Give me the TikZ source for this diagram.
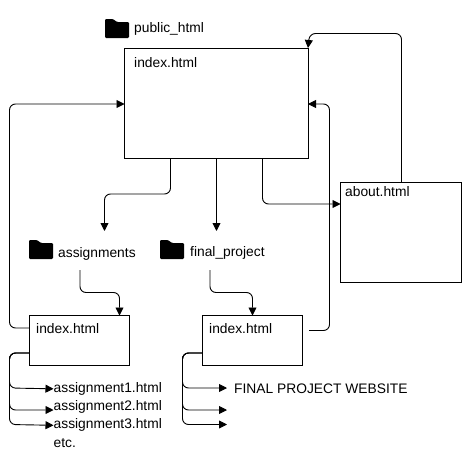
\documentclass[tikz,border=0pt]{standalone}
\usepackage{fontspec}
\setmainfont{Liberation Sans}
\usetikzlibrary{arrows.meta}

\tikzset{
  page box/.style={draw, line width=0.9pt, anchor=north west, inner sep=0pt, outer sep=0pt},
  caption/.style={anchor=west, inner sep=0pt, yshift=-0.8pt, font=\fontsize{13.8}{16}\selectfont},
  link/.style={line width=0.9pt, rounded corners=6pt},
  arrowlink/.style={link, -{Triangle[length=8pt,width=8pt]}},
  folder/.style={fill=black, rounded corners=1.2pt}
}
\newcommand{\foldericon}[2]{
  \fill[folder] (#1, #2) -- (#1, #2-19) -- (#1+8, #2-19) -- (#1+12, #2-16) -- (#1+24, #2-16) -- (#1+24, #2) -- cycle;
}

\begin{document}
\begin{tikzpicture}[x=1pt, y=-1pt]
    \useasboundingbox (0, 0) rectangle (469, 469);

    % pages
    \node[page box, minimum width=183.5pt, minimum height=110.5pt] (main) at (124.5, 48) {};
    \node[page box, minimum width=121pt, minimum height=99.5pt] (about) at (340.5, 182.5) {};
    \node[page box, minimum width=100pt, minimum height=49.5pt] (assignindex) at (29.5, 315.5) {};
    \node[page box, minimum width=100pt, minimum height=49.5pt] (finalindex) at (202.5, 315.5) {};

    \node[caption] (mainname) at (134, 62) {index.html};
    \node[caption] (aboutname) at (345, 191) {about.html};
    \node[caption] (assignindexname) at (36, 328) {index.html};
    \node[caption] (finalindexname) at (209, 328) {index.html};

    % folders
    \foldericon{105}{38}
    \foldericon{29}{259}
    \foldericon{160}{259}
    \node[caption] (publicname) at (134, 28) {public\_html};
    \node[caption] (assignname) at (58, 253) {assignments};
    \node[caption] (finalname) at (190, 252) {final\_project};

    % files
    \node[caption] (assign1) at (53.5, 388) {assignment1.html};
    \node[caption] (assign2) at (53.5, 406.5) {assignment2.html};
    \node[caption] (assign3) at (53.5, 424.5) {assignment3.html};
    \node[caption] (etc) at (53.5, 442.5) {etc.};
    \node[caption] (website) at (234, 388) {FINAL PROJECT WEBSITE};

    % free ends
    \coordinate (assignin) at (104.5, 231);
    \coordinate (finalin) at (216.5, 231);
    \coordinate (assignout) at (80, 270);
    \coordinate (finalout) at (210, 270);
    \coordinate (finalback) at (309, 330.5);
    \coordinate (assign2in) at (53.5, 410);
    \coordinate (final1in) at (227, 388);
    \coordinate (final2in) at (227, 410);
    \coordinate (final3in) at (227, 424.5);

    % from the main page
    \draw[arrowlink] ([xshift=46pt]main.south west) |- (104.5, 194) -- (assignin);
    \draw[arrowlink] ([xshift=92pt]main.south west) -- (finalin);
    \draw[arrowlink] ([xshift=138pt]main.south west) |- ([yshift=-21.5pt]about.north west);

    % back to the main page
    \draw[arrowlink] ([xshift=61pt]about.north west) |- (309.5, 33.5) -- (main.north east);
    \draw[arrowlink] ([yshift=-12.5pt]assignindex.north west) -| (9.5, 104) -- ([yshift=-56pt]main.north west);
    \draw[arrowlink] (finalback) -| (329.5, 104) -- ([yshift=-56pt]main.north east);

    % folders to pages
    \draw[arrowlink] (assignout) |- (119.5, 292.5) -- ([xshift=90pt]assignindex.north west);
    \draw[arrowlink] (finalout) |- (252.5, 292.5) -- ([xshift=50pt]finalindex.north west);

    % pages to files
    \draw[arrowlink] ([yshift=-37.5pt]assignindex.north west) -| (9.5, 388) -- (assign1.west);
    \draw[arrowlink] ([yshift=-37.5pt]assignindex.north west) -| (9.5, 410) -- (assign2in);
    \draw[arrowlink] ([yshift=-37.5pt]assignindex.north west) -| (9.5, 424.5) -- (assign3.west);
    \draw[arrowlink] ([yshift=-37.5pt]finalindex.north west) -| (182.5, 388) -- (final1in);
    \draw[arrowlink] ([yshift=-37.5pt]finalindex.north west) -| (182.5, 410) -- (final2in);
    \draw[arrowlink] ([yshift=-37.5pt]finalindex.north west) -| (182.5, 424.5) -- (final3in);
\end{tikzpicture}
\end{document}
